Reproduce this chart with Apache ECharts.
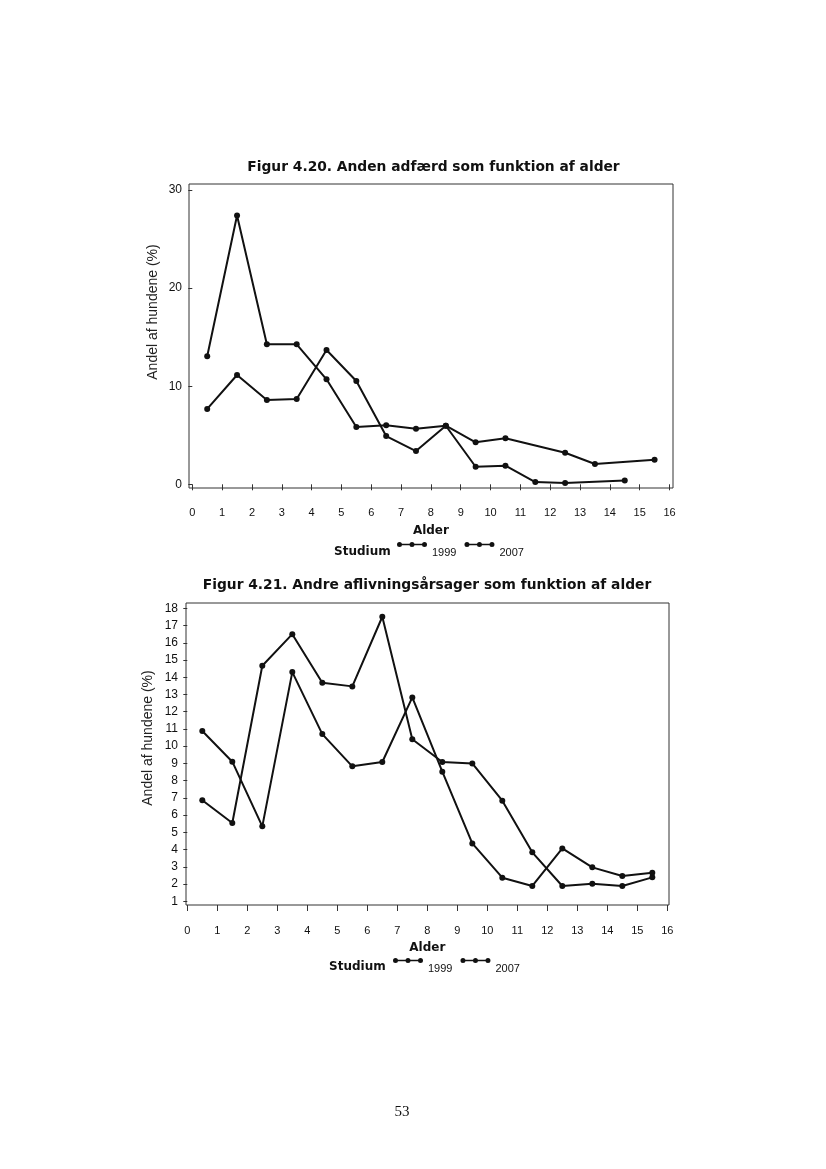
<!DOCTYPE html>
<html>
<head>
<meta charset="utf-8">
<script src="https://cdn.jsdelivr.net/npm/echarts@6/dist/echarts.min.js"></script>
<style>
html,body{margin:0;padding:0;background:#fff;}
#c{width:826px;height:1169px;}
</style>
</head>
<body>
<div id="c"></div>
<script>
// ---- data ----
var ages = [0.5,1.5,2.5,3.5,4.5,5.5,6.5,7.5,8.5,9.5,10.5,11.5,12.5,13.5,14.5,15.5];
var seriesNames = ['1999','2007'];
// Figur 4.20
var fig20_1999 = [13.05,27.4,14.27,14.27,10.7,5.84,6.01,5.67,5.97,4.28,4.69,null,3.22,2.07,null,2.51];
var fig20_2007 = [7.68,11.14,8.59,8.69,13.69,10.53,4.92,3.39,5.97,1.79,1.9,0.23,0.13,null,0.4,null];
// Figur 4.21
var fig21_1999 = [6.86,5.54,14.67,16.5,13.68,13.47,17.51,10.4,9.08,9.0,6.84,3.84,1.89,2.02,1.89,2.39];
var fig21_2007 = [10.88,9.1,5.35,14.3,10.7,8.83,9.08,12.83,8.52,4.36,2.37,1.89,4.07,2.97,2.47,2.66];
var title20 = 'Figur 4.20. Anden adfærd som funktion af alder';
var title21 = 'Figur 4.21. Andre aflivningsårsager som funktion af alder';
var yName = 'Andel af hundene (%)';
var xName = 'Alder';
var legendTitle = 'Studium';
var pageNo = '53';

function pairs(vals){
  var out = [];
  for (var i = 0; i < ages.length; i++) if (vals[i] !== null) out.push([ages[i], vals[i]]);
  return out;
}

var lineStyle = {color:'#111', width:2};
function mkSeries(name, vals, idx){
  return {
    name: name, type:'line', xAxisIndex: idx, yAxisIndex: idx,
    data: pairs(vals), symbol:'circle', symbolSize:6,
    itemStyle:{color:'#111'}, lineStyle: lineStyle, connectNulls:true,
    animation:false, z:5
  };
}

var legendIcon = 'path://M5,2.2H16V3.8H5Z M20,2.2H31V3.8H20Z M0,3a3,3 0 1,1 6,0a3,3 0 1,1 -6,0Z M15,3a3,3 0 1,1 6,0a3,3 0 1,1 -6,0Z M30,3a3,3 0 1,1 6,0a3,3 0 1,1 -6,0Z';

function xAxisCfg(idx, offset){
  return {
    type:'value', gridIndex: idx, min:0, max:16, interval:1, offset: offset,
    axisLine:{show:false},
    axisTick:{show:true, length:6, lineStyle:{color:'#333'}},
    axisLabel:{color:'#111', fontFamily:'Liberation Sans', fontSize:11, margin:20},
    splitLine:{show:false},
    name: xName, nameLocation:'middle', nameGap: 37,
    nameTextStyle:{fontFamily:'DejaVu Sans', fontWeight:'bold', fontSize:12, color:'#111'}
  };
}
function yAxisCfg(idx, min, max, interval, offset, margin){
  return {
    type:'value', gridIndex: idx, min:min, max:max, interval:interval, offset: offset,
    axisLine:{show:false},
    axisTick:{show:true, length:4, lineStyle:{color:'#333'}},
    axisLabel:{color:'#111', fontFamily:'Liberation Sans', fontSize:12, margin:margin},
    splitLine:{show:false}
  };
}
function legendCfg(left, top){
  return {data:seriesNames, left:left, top:top, icon:legendIcon, itemWidth:30, itemHeight:6, itemGap:8,
     selectedMode:false, padding:0,
     itemStyle:{color:'#111', borderWidth:0},
     formatter:'{s|{name}}',
     textStyle:{fontFamily:'Liberation Sans', fontSize:11, color:'#111',
       rich:{s:{fontFamily:'Liberation Sans', fontSize:11, color:'#111', padding:[16,0,0,0]}}}};
}

var chart = echarts.init(document.getElementById('c'), null, {renderer:'canvas'});
chart.setOption({
  backgroundColor:'#fff',
  animation:false,
  grid:[
    {left:192.3, top:190, width:477.2, height:294.3},
    {left:187.3, top:608.3, width:480, height:293}
  ],
  xAxis:[ xAxisCfg(0, 3.5), xAxisCfg(1, 3.7) ],
  yAxis:[ yAxisCfg(0, 0, 30, 10, 3.3, 7), yAxisCfg(1, 1, 18, 1, 1.3, 8) ],
  legend:[ legendCfg(397, 542), legendCfg(393, 958) ],
  series:[
    mkSeries(seriesNames[0], fig20_1999, 0),
    mkSeries(seriesNames[1], fig20_2007, 0),
    mkSeries(seriesNames[0], fig21_1999, 1),
    mkSeries(seriesNames[1], fig21_2007, 1)
  ],
  graphic:[
    {type:'rect', shape:{x:189, y:184, width:484, height:304}, style:{fill:'none', stroke:'#333', lineWidth:1}, z:1},
    {type:'rect', shape:{x:186, y:603, width:483, height:302}, style:{fill:'none', stroke:'#333', lineWidth:1}, z:1},
    {type:'text', x:433.5, y:167, style:{text:title20, font:'bold 13.8px "DejaVu Sans"', fill:'#111', textAlign:'center', textVerticalAlign:'middle'}},
    {type:'text', x:427, y:585, style:{text:title21, font:'bold 13.8px "DejaVu Sans"', fill:'#111', textAlign:'center', textVerticalAlign:'middle'}},
    {type:'text', x:153, y:312, rotation:Math.PI/2, style:{text:yName, font:'14px "Liberation Sans"', fill:'#222', textAlign:'center', textVerticalAlign:'middle'}},
    {type:'text', x:148, y:738, rotation:Math.PI/2, style:{text:yName, font:'14px "Liberation Sans"', fill:'#222', textAlign:'center', textVerticalAlign:'middle'}},
    {type:'text', x:334, y:552, style:{text:legendTitle, font:'bold 12px "DejaVu Sans"', fill:'#111', textAlign:'left', textVerticalAlign:'middle'}},
    {type:'text', x:329, y:967, style:{text:legendTitle, font:'bold 12px "DejaVu Sans"', fill:'#111', textAlign:'left', textVerticalAlign:'middle'}},
    {type:'text', x:402, y:1112, style:{text:pageNo, font:'15px "Liberation Serif"', fill:'#111', textAlign:'center', textVerticalAlign:'middle'}}
  ]
});
</script>
</body>
</html>
